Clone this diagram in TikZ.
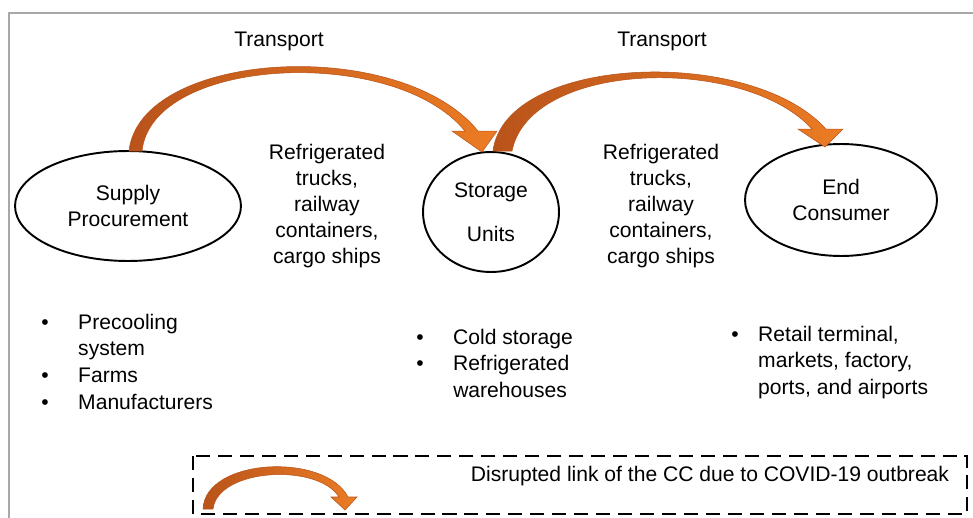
\documentclass[tikz,border=0pt]{standalone}
\usepackage{fontspec}
\setmainfont{Liberation Sans}
\usetikzlibrary{shapes.geometric, calc}
\definecolor{arrowdark}{HTML}{B9531A}
\definecolor{arrowlight}{HTML}{EC7C24}
\definecolor{framegray}{HTML}{A8A8A8}

\begin{document}
\begin{tikzpicture}[x=0.02cm, y=-0.02cm,
    every node/.style={font=\fontsize{12}{15.3}\selectfont},
    stage/.style={ellipse, draw, line width=1.1pt, align=center, inner sep=2pt},
    means/.style={align=center, font=\fontsize{12}{14.9}\selectfont},
    itemlist/.style={anchor=base west, inner sep=0pt},
    fatarrow/.style={left color=arrowdark, right color=arrowlight, draw=arrowdark, line width=0.3pt}]
    \useasboundingbox (0,0) rectangle (973,517);
    \draw[framegray, line width=1.1pt] (9,13) rectangle (1000,540);

    \node[stage, minimum width=4.52cm, minimum height=2.2cm] (supply) at (128,206) {Supply\\Procurement};
    \node[stage, minimum width=2.72cm, minimum height=2.4cm] (storage) at (491,212) {Storage\\[9.7pt]Units};
    \node[stage, minimum width=3.84cm, minimum height=2.24cm] (consumer) at (841,200) {End\\Consumer};

    \node (transport1) at (279,41) {Transport};
    \node (transport2) at (662,41) {Transport};
    \node[means] (means1) at (327,206) {Refrigerated\\trucks,\\railway\\containers,\\cargo ships};
    \node[means] (means2) at (661,206) {Refrigerated\\trucks,\\railway\\containers,\\cargo ships};

    \shadedraw[fatarrow] ($(supply.north)+(1,1)$) .. controls (140,50) and (400,35) .. ($(storage.north)+(-13,-20)$)
        -- ($(storage.north)+(6,-20)$) -- ($(storage.north)+(-9,1)$) -- ($(storage.north)+(-39,-20)$)
        -- ($(storage.north)+(-26,-20)$) .. controls (395,45) and (152,56) .. ($(supply.north)+(14,1)$) -- cycle;
    \shadedraw[fatarrow] ($(storage.north)+(2,0)$) .. controls (505,55) and (750,45) .. ($(consumer.north)+(-15,-14)$)
        -- ($(consumer.north)+(2,-14)$) -- ($(consumer.north)+(-16,4)$) -- ($(consumer.north)+(-43,-14)$)
        -- ($(consumer.north)+(-29,-14)$) .. controls (745,55) and (530,60) .. ($(storage.north)+(21,0)$) -- cycle;

    \node[itemlist] (supplylist) at (41,329) {\begin{tabular}[t]{@{}p{21pt}@{}l@{}}
        \textbullet & Precooling\\ & system\\ \textbullet & Farms\\ \textbullet & Manufacturers\end{tabular}};
    \node[itemlist] (storagelist) at (416,344) {\begin{tabular}[t]{@{}p{21pt}@{}l@{}}
        \textbullet & Cold storage\\ \textbullet & Refrigerated\\ & warehouses\end{tabular}};
    \node[itemlist] (consumerlist) at (731,341) {\begin{tabular}[t]{@{}p{15.3pt}@{}l@{}}
        \textbullet & Retail terminal,\\ & markets, factory,\\ & ports, and airports\end{tabular}};

    \draw[dashed, dash pattern=on 8pt off 4.5pt, line width=1.3pt] (193,456) rectangle (967,514);
    \node (legendtext) at (710,476) {Disrupted link of the CC due to COVID-19 outbreak};
    \shadedraw[fatarrow] (203,509) .. controls (205,458) and (325,452) .. (348,497) -- (357,497) -- (345,510)
        -- (331,497) -- (339,497) .. controls (318,463) and (218,468) .. (213,509) -- cycle;
\end{tikzpicture}
\end{document}
